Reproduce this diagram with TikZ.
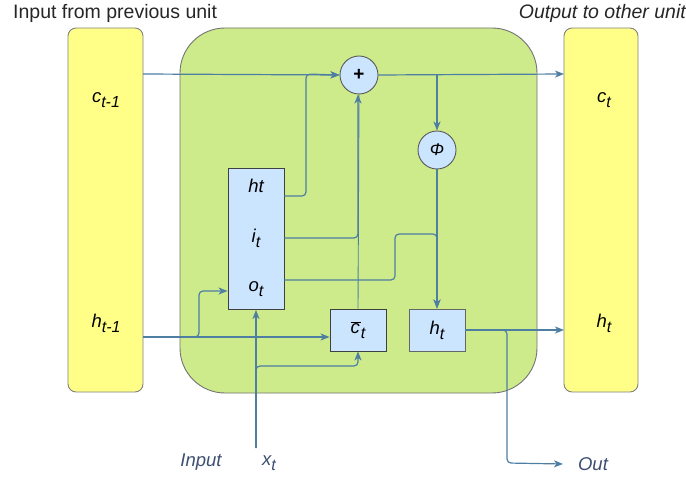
\documentclass[tikz,border=0pt]{standalone}
\usepackage{fontspec}
\setmainfont{Liberation Sans}
\usetikzlibrary{arrows.meta}
\definecolor{lineblue}{HTML}{4F7EA3}
\definecolor{yel}{HTML}{FFFF88}
\definecolor{grn}{HTML}{CDEB8B}
\definecolor{lblue}{HTML}{CCE5FF}
\definecolor{txtblue}{HTML}{3D4F70}
\newcommand\lsub[2]{#1\raisebox{-0.5ex}{\fontsize{16}{16}\selectfont #2}}
\tikzset{
  ybox/.style={draw=black!50, fill=yel, rounded corners=8pt, line width=0.9pt},
  gbox/.style={draw=black!55, fill=grn, rounded corners=45pt, line width=0.9pt},
  bbox/.style={draw=black!75, fill=lblue, line width=0.9pt, inner sep=0pt},
  opcirc/.style={draw=black!65, fill=lblue, circle, minimum size=38pt, inner sep=0pt, line width=0.9pt},
  lab/.style={font=\fontsize{18.5}{20}\selectfont\itshape, inner sep=0pt},
  conn/.style={draw=lineblue, line width=1.2pt, rounded corners=4pt},
  arr/.style={conn, -{Stealth[length=9pt,width=7pt,inset=2.5pt]}},
}
\begin{document}
\begin{tikzpicture}[x=1pt,y=-1pt]
\useasboundingbox (0,0) rectangle (686,481);
% big boxes
\draw[ybox] (68,28) rectangle (143,392);
\draw[ybox] (564,28) rectangle (638,392);
\draw[gbox] (180,28) rectangle (537,393);
% titles
\node[font=\fontsize{19.5}{21}\selectfont, text=black!85, anchor=west, inner sep=0pt] (tin) at (13,13) {Input from previous unit};
\node[font=\fontsize{19.5}{21}\selectfont\itshape, text=black!85, anchor=east, inner sep=0pt] (tout) at (686,13) {Output to other unit};
% yellow labels
\node[lab] (cprev) at (106,100) {\lsub{c}{t-1}};
\node[lab] (hprev) at (106,323) {\lsub{h}{t-1}};
\node[lab] (cnext) at (604,100) {\lsub{c}{t}};
\node[lab] (hnext) at (604,323) {\lsub{h}{t}};
% anchors on yellow boxes
\coordinate (cprevE) at (143,74);
\coordinate (hprevE) at (143,337);
\coordinate (cnextW) at (564,74);
\coordinate (hnextW) at (564,330);
% gate box
\node[bbox, minimum width=56pt, minimum height=141pt] (gate) at (256,239) {};
\node[lab] (lh) at (256,186) {ht};
\node[lab] (li) at (256,238) {\lsub{i}{t}};
\node[lab] (lo) at (256,289) {\lsub{o}{t}};
% ctilde and ht boxes
\node[bbox, minimum width=56pt, minimum height=42pt] (cbar) at (358,330) {};
\node[lab] at (358,330) {\lsub{$\overline{\mbox{\itshape c\kern1pt}}$}{t}};
\node[bbox, draw=black!60, minimum width=56pt, minimum height=42pt] (hbox) at (437,330) {};
\node[lab] at (437,330) {\lsub{h}{t}};
% ops
\node[opcirc] (plus) at (359,75) {\fontsize{19}{19}\selectfont\bfseries +};
\node[opcirc] (phi) at (437,150) {\fontsize{17}{17}\selectfont\itshape Φ};
% bottom labels
\node[lab, text=txtblue] (inp) at (201,462) {Input};
\node[lab, text=txtblue] (xt) at (269,463) {\lsub{x}{t}};
\node[lab, text=txtblue] (out) at (593,464) {Out};
\coordinate (xtS) at (256,448);
% connectors
\draw[arr] (cprevE) -- (plus.west);
\draw[arr] (gate.east |- 0,196) -- (306,196) -- (306,74) -- (plus.west);
\draw[arr] (gate.east |- 0,238) -- (358,238) -- (plus.south -| 358,0);
\draw[conn, line width=0.9pt] (cbar.north) -- (plus.south);
\draw[arr] (gate.east |- 0,280) -- (395,280) -- (395,234) -- (437,234) -- (hbox.north);
\draw[arr] (plus.east) -- (cnextW);
\draw[arr] (437,74) -- (phi.north);
\draw[arr] (phi.south) -- (hbox.north);
\draw[arr] (hprevE) -- (cbar.west |- 0,337);
\draw[arr] (hprevE) -- (199,337) -- (199,291) -- (gate.west |- 0,291);
\draw[arr] (xtS) -- (gate.south);
\draw[arr] (xtS) -- (256,366) -- (358,366) -- (cbar.south);
\draw[arr] (hbox.east) -- (hnextW);
\draw[arr] (hbox.east) -- (507,330) -- (507,463) -- (out.west -| 563,0);
\end{tikzpicture}
\end{document}
